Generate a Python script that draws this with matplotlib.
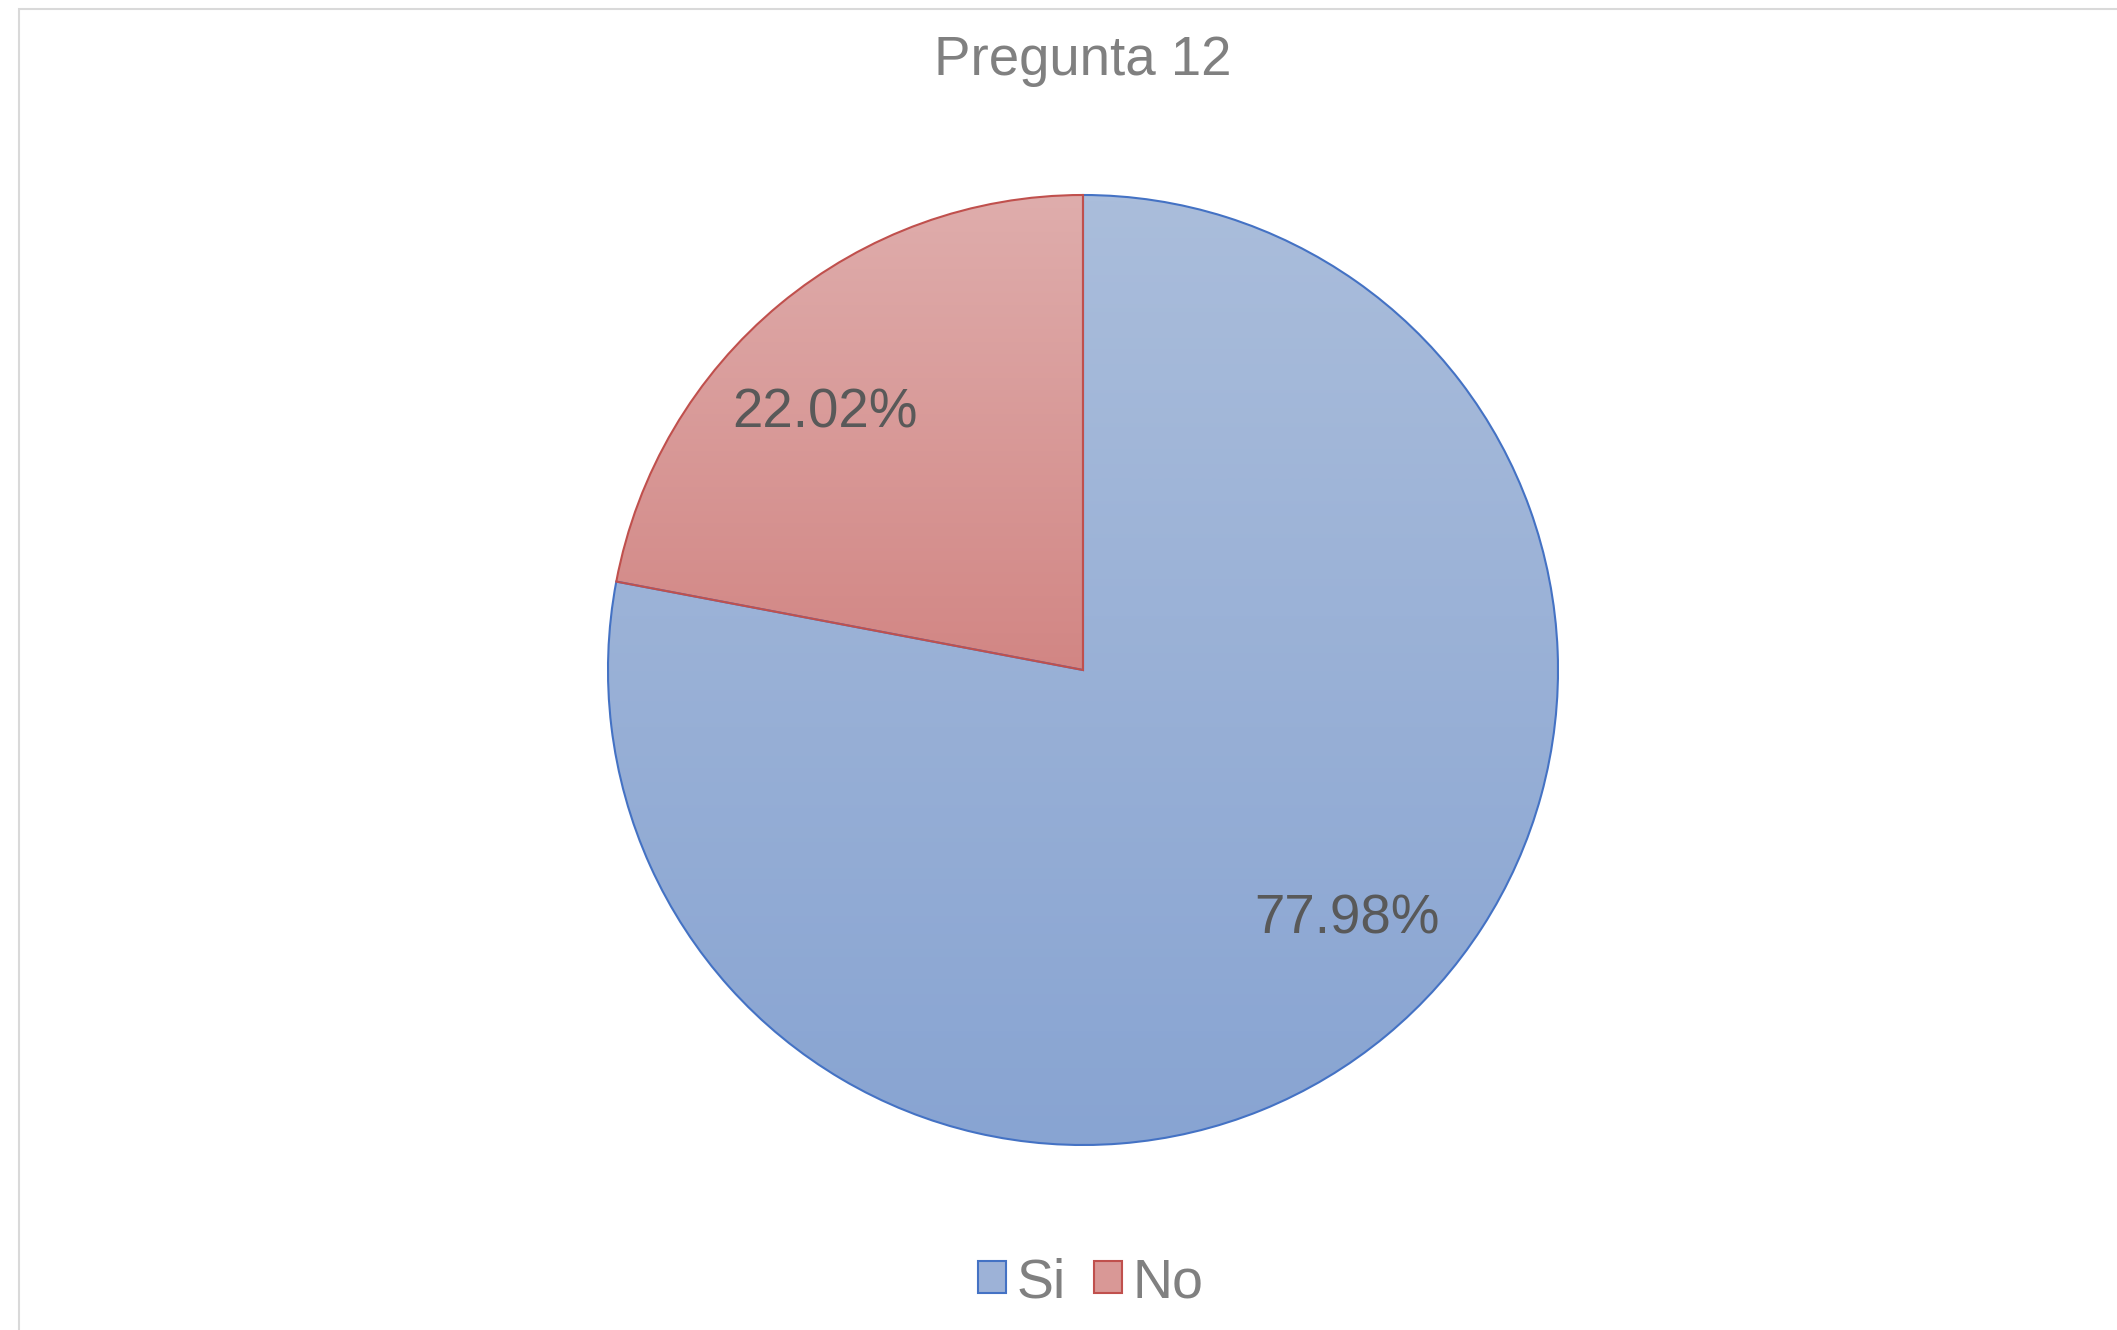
import numpy as np
import matplotlib
matplotlib.use("Agg")
import matplotlib.pyplot as plt
from matplotlib.patches import Patch, Rectangle
from matplotlib.colors import LinearSegmentedColormap

categories = ["Si", "No"]
values = [77.98, 22.02]
title = "Pregunta 12"

edge_colors = ["#4472c4", "#c0504d"]
grad_top = ["#aabddb", "#dfadac"]
grad_bot = ["#88a4d2", "#d28684"]
legend_face = ["#9db2d7", "#d99896"]

W, H = 2117, 1330
fig = plt.figure(figsize=(W / 100, H / 100), dpi=100)
fig.patch.set_facecolor("white")

# chart area border
fig.add_artist(Rectangle((19 / W, -0.05), 1.2, 1 - 9 / H + 0.05, transform=fig.transFigure,
                         fill=False, edgecolor="#d9d9d9", linewidth=1.5))

cx, cy, r = 1083, 670, 475
ax = fig.add_axes([(cx - r) / W, (H - cy - r) / H, 2 * r / W, 2 * r / H])

wedges, texts, autotexts = ax.pie(values, startangle=90, counterclock=False,
                                  autopct="%.2f%%", pctdistance=0.77,
                                  wedgeprops=dict(linewidth=1.5))
ax.set_xlim(-1, 1)
ax.set_ylim(-1, 1)
ax.set_aspect("equal")

for i, w in enumerate(wedges):
    w.set_edgecolor(edge_colors[i])
    w.set_facecolor("none")
    w.set_zorder(3)
    w.set_clip_on(False)
    verts = w.get_path().vertices
    ymin, ymax = verts[:, 1].min(), verts[:, 1].max()
    cmap = LinearSegmentedColormap.from_list("g%d" % i, [grad_bot[i], grad_top[i]])
    grad = np.linspace(0, 1, 256).reshape(-1, 1)
    im = ax.imshow(grad, cmap=cmap, origin="lower", aspect="auto",
                   extent=[-1, 1, ymin, ymax], zorder=2, interpolation="bilinear")
    im.set_clip_path(w)

# label placement (Excel-style offsets)
label_pos = [(-42.7, 0.757), (134.6, 0.775)]
for t, (ang, d) in zip(autotexts, label_pos):
    a = np.deg2rad(ang)
    t.set_position((d * np.cos(a), d * np.sin(a) - 0.012))
    t.set_fontsize(39.3)
    t.set_color("#595959")
    t.set_fontfamily("Liberation Sans")
    t.set_ha("center")
    t.set_va("center")
    t.set_zorder(5)

fig.text(cx / W, 1 - 61 / H, title, ha="center", va="center", fontsize=39.3,
         color="#808080", fontfamily="Liberation Sans")

handles = [Patch(facecolor=legend_face[i], edgecolor=edge_colors[i], linewidth=1.5)
           for i in range(len(categories))]
leg = fig.legend(handles, categories, loc="center", bbox_to_anchor=((cx + 8) / W, 1 - 1283 / H),
                 ncol=2, frameon=False, handlelength=0.5, handleheight=0.5,
                 handletextpad=0.2, columnspacing=0.5,
                 prop=dict(family="Liberation Sans", size=40))
for t in leg.get_texts():
    t.set_color("#808080")

fig.savefig("out.png", dpi=100, facecolor="white")
